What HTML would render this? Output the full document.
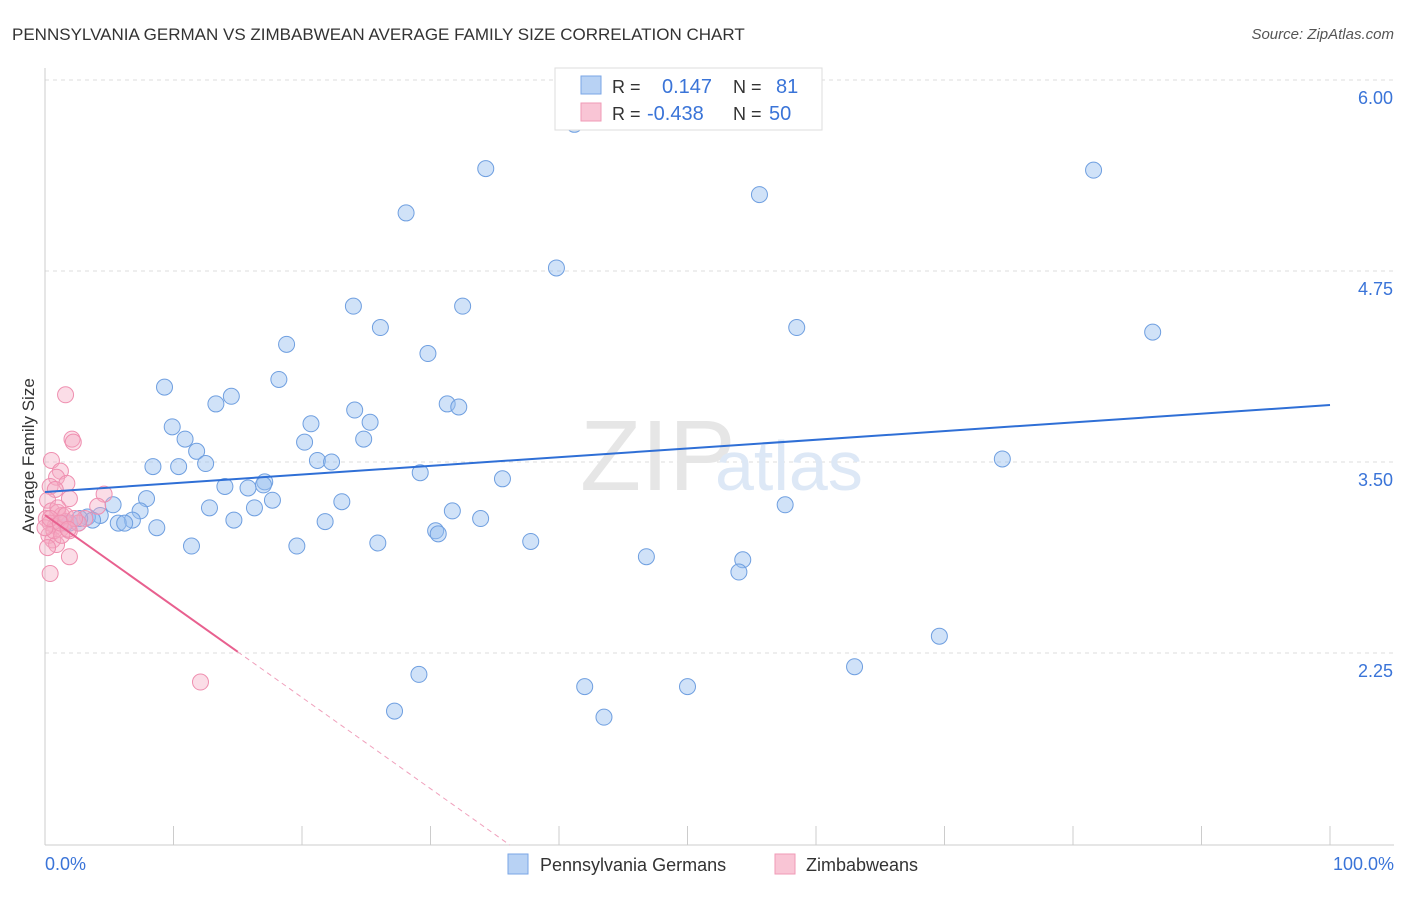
<!DOCTYPE html>
<html><head><meta charset="utf-8"><style>
body{margin:0;background:#fff;font-family:"Liberation Sans",sans-serif;}
svg text{font-family:"Liberation Sans",sans-serif;}
</style></head><body>
<svg width="1406" height="892" xmlns="http://www.w3.org/2000/svg">
<text x="12" y="40" font-size="17" fill="#333">PENNSYLVANIA GERMAN VS ZIMBABWEAN AVERAGE FAMILY SIZE CORRELATION CHART</text>
<text x="1394" y="39" font-size="15" fill="#555" font-style="italic" text-anchor="end">Source: ZipAtlas.com</text>
<g id="grid"></g>
<line x1="45" y1="68" x2="45" y2="845" stroke="#ccc"/>
<line x1="45" y1="845" x2="1394" y2="845" stroke="#ccc"/>
<g id="xticks"></g>
<text x="580" y="490" font-size="100" fill="#e6e6e6" font-family="Liberation Serif">ZIP</text>
<text x="715" y="490" font-size="70" fill="#dde8f6">atlas</text>
<g id="ylabels"></g>
<text x="34" y="456" font-size="17" fill="#333" transform="rotate(-90 34 456)" text-anchor="middle">Average Family Size</text>
<text x="45" y="870" font-size="18" fill="#3a74d8">0.0%</text>
<text x="1394" y="870" font-size="18" fill="#3a74d8" text-anchor="end">100.0%</text>
<g id="pts"></g>
<g id="lines"></g>
<g>
<rect x="555" y="68" width="267" height="62" fill="#fff" stroke="#ddd"/>
<rect x="581" y="76" width="20" height="18" fill="#b8d2f4" stroke="#7aa6e6"/>
<rect x="581" y="103" width="20" height="18" fill="#f9c5d5" stroke="#f09ab6"/>
<text x="612" y="93" font-size="18" fill="#333">R =</text><text x="662" y="93" font-size="20" fill="#3a74d8">0.147</text>
<text x="733" y="93" font-size="18" fill="#333">N =</text><text x="776" y="93" font-size="20" fill="#3a74d8">81</text>
<text x="612" y="120" font-size="18" fill="#333">R =</text><text x="647" y="120" font-size="20" fill="#3a74d8">-0.438</text>
<text x="733" y="120" font-size="18" fill="#333">N =</text><text x="769" y="120" font-size="20" fill="#3a74d8">50</text>
</g>
<g>
<rect x="508" y="854" width="20" height="20" fill="#b8d2f4" stroke="#7aa6e6"/>
<text x="540" y="871" font-size="18" fill="#333">Pennsylvania Germans</text>
<rect x="775" y="854" width="20" height="20" fill="#f9c5d5" stroke="#f09ab6"/>
<text x="806" y="871" font-size="18" fill="#333">Zimbabweans</text>
</g>
</svg>
<script>
const yTicks=[6.00,4.75,3.50,2.25];
const yTickLabels=["6.00","4.75","3.50","2.25"];
const xTicks=[0,10,20,30,40,50,60,70,80,90,100];
const blueX=[41.2,34.3,81.6,55.6,28.1,39.8,24.0,32.5,26.1,58.5,86.2,18.8,29.8,18.2,9.3,14.5,13.3,31.3,32.2,24.1,20.7,25.3,9.9,24.8,10.9,20.2,11.8,8.4,10.4,12.5,21.2,22.3,74.5,29.2,35.6,17.1,17.0,14.0,15.8,7.9,17.7,23.1,5.3,57.6,12.8,16.3,7.4,31.7,4.3,3.3,33.9,14.7,21.8,6.8,5.7,6.2,3.7,2.6,8.7,30.4,30.6,25.9,37.8,19.6,11.4,46.8,54.3,54.0,69.6,63.0,29.1,42.0,50.0,27.2,43.5,1.9,2.7,1.6];
const blueY=[5.71,5.42,5.41,5.25,5.13,4.77,4.52,4.52,4.38,4.38,4.35,4.27,4.21,4.04,3.99,3.93,3.88,3.88,3.86,3.84,3.75,3.76,3.73,3.65,3.65,3.63,3.57,3.47,3.47,3.49,3.51,3.50,3.52,3.43,3.39,3.37,3.35,3.34,3.33,3.26,3.25,3.24,3.22,3.22,3.20,3.20,3.18,3.18,3.15,3.14,3.13,3.12,3.11,3.12,3.10,3.10,3.12,3.10,3.07,3.05,3.03,2.97,2.98,2.95,2.95,2.88,2.86,2.78,2.36,2.16,2.11,2.03,2.03,1.87,1.83,3.10,3.13,3.10];
const pinkX=[1.6,2.1,2.2,0.5,1.2,0.9,1.7,0.4,0.8,1.9,4.6,4.1,0.2,0.5,1.0,1.3,0.1,0.4,0.8,1.2,1.6,1.9,0.3,0.6,0.9,0.2,1.9,0.4,12.1,3.1,2.6,0.7,1.3,0.0,1.0,1.6,0.4,1.2,2.3,1.8];
const pinkY=[3.94,3.65,3.63,3.51,3.44,3.40,3.36,3.34,3.32,3.26,3.29,3.21,3.25,3.18,3.17,3.15,3.13,3.10,3.08,3.06,3.11,3.05,3.02,2.99,2.96,2.94,2.88,2.77,2.06,3.13,3.10,3.05,3.02,3.07,3.20,3.15,3.13,3.10,3.13,3.06];
const blueLine=[3.304,3.873];
const pinkLine=[3.153,-0.0597];
const pinkSolidEnd=15;
const NS="http://www.w3.org/2000/svg";
function X(p){return 45+p*12.85;}
function Y(v){return 462-(v-3.5)*152.8;}
function mk(t,a,parent){const e=document.createElementNS(NS,t);for(const k in a)e.setAttribute(k,a[k]);document.getElementById(parent).appendChild(e);return e;}
yTicks.forEach((v,i)=>{
 const l=mk('line',{x1:45,x2:1394,y1:Y(v),y2:Y(v),stroke:'#ddd','stroke-dasharray':'4,4'},'grid');
 
 
 const t=mk('text',{x:1393,y:Y(v)+24,'font-size':18,fill:'#3a74d8','text-anchor':'end'},'ylabels');
 t.textContent=yTickLabels[i];
 
 
});
xTicks.forEach(p=>{
 const l=mk('line',{x1:X(p),x2:X(p),y1:826,y2:845,stroke:'#ccc'},'xticks');
 
 
});
blueX.forEach((p,i)=>{
 const c=mk('circle',{cx:X(p),cy:Y(blueY[i]),r:8,fill:'rgba(150,190,240,0.45)',stroke:'#6f9fe0','stroke-width':1},'pts');
 
 
});
pinkX.forEach((p,i)=>{
 const c=mk('circle',{cx:X(p),cy:Y(pinkY[i]),r:8,fill:'rgba(245,170,195,0.4)',stroke:'#ef8fb0','stroke-width':1},'pts');
 
 
});
let bl=mk('line',{x1:X(0),y1:Y(blueLine[0]),x2:X(100),y2:Y(blueLine[1]),stroke:'#2f6fd6','stroke-width':2},'lines');


const pv=p=>pinkLine[0]+pinkLine[1]*p;
let pl=mk('line',{x1:X(0),y1:Y(pv(0)),x2:X(pinkSolidEnd),y2:Y(pv(pinkSolidEnd)),stroke:'#e8608f','stroke-width':2},'lines');


const pEnd=(pinkLine[0]-(3.5-(845-462)/152.8))/(-pinkLine[1]);
let pd=mk('line',{x1:X(pinkSolidEnd),y1:Y(pv(pinkSolidEnd)),x2:X(pEnd),y2:Y(pv(pEnd)),stroke:'#f0a0bc','stroke-width':1,'stroke-dasharray':'5,4'},'lines');


</script>
</body></html>
